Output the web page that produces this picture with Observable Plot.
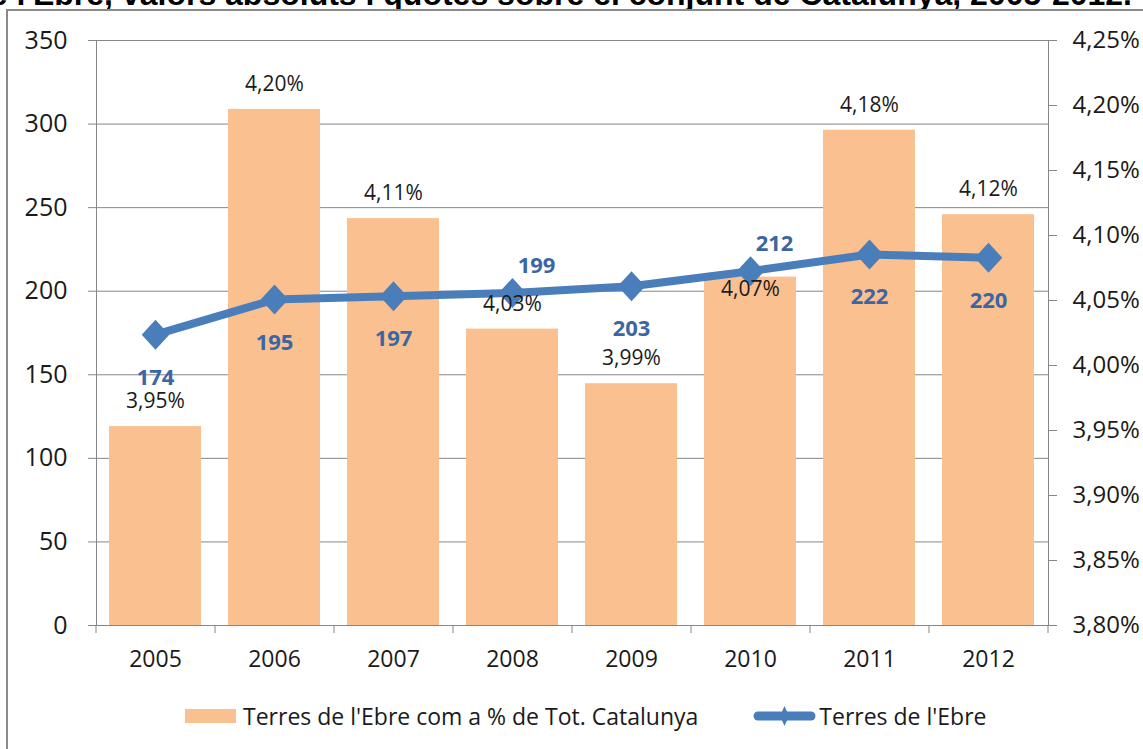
<!DOCTYPE html>
<html>
<head>
<meta charset="utf-8">
<script src="https://cdn.jsdelivr.net/npm/d3@7"></script>
<script src="https://cdn.jsdelivr.net/npm/@observablehq/plot@0.6"></script>
<style>
  html, body { margin: 0; padding: 0; background: #fff; }
  body { width: 1143px; height: 749px; overflow: hidden; position: relative; font-family: "Open Sans", sans-serif; }
  #title { position: absolute; right: 11px; top: -22px; white-space: nowrap; font: bold 32px/32px "Liberation Sans", Arial, sans-serif; color: #000; }
  #frame { position: absolute; left: 6px; top: 9px; width: 1300px; height: 900px; border: 2px solid #8a8a8a; box-sizing: border-box; background: #fff; }
  #chart { position: absolute; left: 0; top: 0; }
  #legend { position: absolute; left: 185px; top: 700px; display: flex; align-items: center; height: 31px; font-size: 23px; color: #1a1a1a; white-space: nowrap; }
  .sw { width: 51px; height: 14px; background: #fac090; margin-right: 7px; }
  .item2 { margin-left: 55px; display: flex; align-items: center; }
</style>
</head>
<body>
<div id="title">Terres de l'Ebre, valors absoluts i quotes sobre el conjunt de Catalunya, 2005-2012.</div>
<div id="frame"></div>
<div id="chart"></div>
<div id="legend">
  <div class="sw"></div><span id="lg1"></span>
  <div class="item2">
    <svg width="63" height="22" style="margin-right:3px">
      <line x1="5" y1="11" x2="58" y2="11" stroke="#4a7ebb" stroke-width="9" stroke-linecap="round"/>
      <polygon points="31.5,1 36,11 31.5,21 27,11" fill="#4a7ebb"/>
    </svg><span id="lg2"></span>
  </div>
</div>
<script>
// ---- data ----
const years = ["2005", "2006", "2007", "2008", "2009", "2010", "2011", "2012"];
const absValues = [174, 195, 197, 199, 203, 212, 222, 220];            // Terres de l'Ebre (left axis)
const shareValues = [3.953, 4.197, 4.113, 4.028, 3.986, 4.068, 4.181, 4.116]; // % of Catalunya (right axis)
const leftTicks = [0, 50, 100, 150, 200, 250, 300, 350];
const rightTicks = [3.80, 3.85, 3.90, 3.95, 4.00, 4.05, 4.10, 4.15, 4.20, 4.25];
const seriesNames = ["Terres de l'Ebre com a % de Tot. Catalunya", "Terres de l'Ebre"];
const lineLabelAbove = ["2008", "2010"];
const barLabelInside = ["2010"];

document.getElementById("lg1").textContent = seriesNames[0];
document.getElementById("lg2").textContent = seriesNames[1];

// ---- scales mapping (right axis mapped onto left scale) ----
const L = [leftTicks[0], leftTicks[leftTicks.length - 1]];
const R = [rightTicks[0], rightTicks[rightTicks.length - 1]];
const toLeft = p => (p - R[0]) / (R[1] - R[0]) * (L[1] - L[0]) + L[0];
const fromLeft = v => (v - L[0]) / (L[1] - L[0]) * (R[1] - R[0]) + R[0];
const fmtPct = v => v.toFixed(2).replace(".", ",") + "%";

const rows = years.map((year, i) => ({ year, abs: absValues[i], share: shareValues[i], shareL: toLeft(shareValues[i]) }));

const W = 1143, H = 690, mL = 96, mR = 95, mT = 40, mB = 65;
const step = (W - mL - mR) / years.length;

const squareDiamond = {
  draw(ctx, size) {
    const h = Math.sqrt(size / Math.PI);
    ctx.moveTo(0, -h); ctx.lineTo(h * 0.92, 0); ctx.lineTo(0, h); ctx.lineTo(-h * 0.92, 0); ctx.closePath();
  }
};

const blue = "#4a7ebb", orange = "#fac090", grid = "#868686", ink = "#1a1a1a", labelBlue = "#3b66a3";

const chart = Plot.plot({
  width: W, height: H,
  marginLeft: mL, marginRight: mR, marginTop: mT, marginBottom: mB,
  style: { fontFamily: '"Open Sans", sans-serif', color: ink, background: "transparent", overflow: "visible" },
  x: { type: "band", domain: years, paddingInner: 0.226, paddingOuter: 0.113, align: 0.5, label: null },
  y: { domain: L, label: null },
  marks: [
    Plot.gridY(leftTicks, { stroke: grid, strokeOpacity: 1 }),
    Plot.barY(rows, { x: "year", y1: L[0], y2: "shareL", fill: orange }),
    Plot.frame({ stroke: grid }),
    Plot.axisY(leftTicks, { anchor: "left", tickSize: 8, tickPadding: 21, stroke: grid, fill: ink, fontSize: 25, label: null }),
    Plot.axisY(rightTicks.map(toLeft), { anchor: "right", tickSize: 8, tickPadding: 16, stroke: grid, fill: ink, fontSize: 24, tickFormat: v => fmtPct(fromLeft(v)), label: null }),
    Plot.axisX(years, { tickSize: 8, dx: -step / 2, stroke: grid, tickFormat: () => "", label: null }),
    Plot.axisX([years[years.length - 1]], { tickSize: 8, dx: step / 2, stroke: grid, tickFormat: () => "", label: null }),
    Plot.axisX(years, { tickSize: 0, tickPadding: 25, fill: ink, fontSize: 23, label: null }),
    Plot.line(rows, { x: "year", y: "abs", stroke: blue, strokeWidth: 8 }),
    Plot.dot(rows, { x: "year", y: "abs", symbol: squareDiamond, r: 15, fill: blue, stroke: null }),
    Plot.text(rows.filter(d => !barLabelInside.includes(d.year)), { x: "year", y: "shareL", text: d => fmtPct(d.share), dy: -25, fontSize: 21, fill: ink }),
    Plot.text(rows.filter(d => barLabelInside.includes(d.year)), { x: "year", y: "shareL", text: d => fmtPct(d.share), dy: 12, fontSize: 21, fill: ink }),
    Plot.text(rows.filter(d => !lineLabelAbove.includes(d.year)), { x: "year", y: "abs", text: d => String(d.abs), dy: 43, fontSize: 22, fontWeight: "bold", fill: labelBlue }),
    Plot.text(rows.filter(d => lineLabelAbove.includes(d.year)), { x: "year", y: "abs", text: d => String(d.abs), dx: 24, dy: -27, fontSize: 22, fontWeight: "bold", fill: labelBlue })
  ]
});
document.getElementById("chart").appendChild(chart);
</script>
</body>
</html>
